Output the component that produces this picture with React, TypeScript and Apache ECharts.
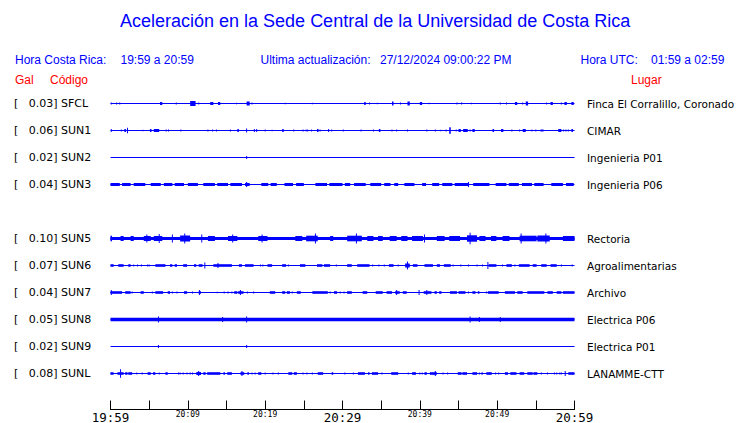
import React, { useEffect, useRef } from "react";
import * as echarts from "echarts";

// ---- data ----
const TITLE = "Aceleración en la Sede Central de la Universidad de Costa Rica";
const START_HOUR = 19;
const START_MIN = 59;
const SPAN_MIN = 60;
const BIG_TICKS = [0, 30, 60];

const CODES = ["SFCL", "SUN1", "SUN2", "SUN3", "SUN5", "SUN6", "SUN7", "SUN8", "SUN9", "SUNL"];
const PGA = [0.03, 0.06, 0.02, 0.04, 0.1, 0.07, 0.04, 0.05, 0.02, 0.08];
const PLACES = [
  "Finca El Corralillo, Coronado",
  "CIMAR",
  "Ingenieria P01",
  "Ingenieria P06",
  "Rectoria",
  "Agroalimentarias",
  "Archivo",
  "Electrica P06",
  "Electrica P01",
  "LANAMME-CTT",
];
const ROWS = [0, 1, 2, 3, 5, 6, 7, 8, 9, 10];

// bursts: [startMinute, endMinute, relative amplitude]
const SFCL = [
  [0.1, 0.1, 1], [0.8, 0.8, 1], [1.2, 1.2, 1], [6.4, 6.7, 1.5], [8.5, 8.5, 1], [10.3, 11.0, 2.5],
  [11.4, 11.4, 1], [12.9, 13.3, 1.5], [13.9, 14.2, 1.5], [16.3, 16.3, 0.7], [17.6, 18.0, 2], [18.3, 18.3, 1],
  [22.6, 22.6, 0.7], [26.1, 26.1, 0.7], [32.8, 33.0, 1.5], [33.5, 33.5, 1], [34.5, 34.5, 0.7], [36.4, 36.6, 2],
  [37.5, 37.5, 1], [38.4, 38.7, 2], [40.0, 40.3, 1.5], [41.2, 41.2, 0.7], [44.8, 44.8, 1], [45.4, 45.4, 1],
  [46.7, 46.7, 0.7], [50.4, 50.4, 1], [51.2, 51.2, 1], [52.3, 52.6, 1.5], [53.3, 53.3, 1], [53.7, 54.0, 2],
  [56.4, 56.4, 1], [56.9, 57.2, 1.5], [58.3, 58.3, 1], [58.7, 59.0, 1.5], [59.6, 59.9, 1.5],
];
const SUN1 = [
  [0.1, 0.1, 1.5], [1.4, 1.4, 1], [1.8, 2.0, 1.5], [2.2, 2.2, 2.8], [4.2, 4.2, 0.7], [5.1, 5.3, 1.5],
  [5.6, 6.3, 1.5], [7.2, 7.2, 1], [7.5, 7.5, 1], [9.1, 9.1, 1], [12.6, 12.6, 1], [13.2, 13.2, 1],
  [13.7, 13.7, 1], [15.5, 15.5, 1], [16.4, 16.6, 1.5], [17.6, 17.6, 2], [18.6, 18.6, 1.5], [18.9, 18.9, 1.5],
  [20.0, 20.0, 1], [20.9, 20.9, 0.7], [22.2, 22.4, 1.5], [23.7, 23.7, 1], [24.9, 24.9, 1], [25.3, 25.3, 1],
  [25.5, 25.5, 1], [26.0, 26.0, 1], [26.7, 26.9, 1.5], [27.1, 27.1, 1], [28.2, 28.2, 1.5], [28.6, 28.6, 1],
  [30.1, 30.1, 1], [32.4, 32.4, 1], [34.0, 34.0, 1], [34.7, 34.9, 1.5], [36.4, 36.4, 1], [37.0, 37.0, 1],
  [38.4, 38.4, 1], [40.9, 40.9, 1], [42.0, 42.0, 1], [42.7, 42.7, 0.7], [43.4, 43.4, 1], [43.8, 44.0, 3.3],
  [44.7, 44.7, 1], [45.0, 45.3, 1.5], [45.6, 46.2, 1.5], [46.5, 46.5, 1], [46.8, 47.1, 1.5], [49.4, 49.6, 1.5],
  [50.5, 50.8, 1.5], [51.9, 51.9, 1], [52.9, 52.9, 1], [53.3, 53.7, 1.5], [54.5, 54.5, 1], [55.0, 55.0, 1],
  [55.6, 56.0, 1], [57.9, 58.3, 1.5], [58.6, 58.6, 1], [58.9, 58.9, 1], [59.2, 59.2, 1], [59.6, 59.8, 1.5],
];
const SUN2 = [[17.6, 17.6, 1.5]];
const SUN3 = [
  [0.0, 1.2, 1.5], [1.5, 2.6, 1.5], [3.0, 4.5, 1.5], [5.2, 6.5, 1.5], [6.9, 8.0, 1.5], [8.3, 9.5, 1.5],
  [10.0, 11.3, 1.5], [12.0, 13.5, 1.5], [13.8, 15.2, 1.5], [15.5, 17.0, 1.5], [17.4, 18.0, 1.5], [17.6, 17.6, 2.5],
  [19.5, 20.4, 1.5], [20.7, 21.5, 1.5], [22.5, 23.6, 1.5], [24.0, 25.0, 1.5], [26.5, 28.0, 1.5], [28.3, 30.0, 1.5],
  [30.3, 31.0, 1.5], [31.5, 33.0, 1.5], [33.6, 35.0, 1.5], [35.4, 36.2, 1.5], [36.7, 37.2, 1.5], [38.0, 39.3, 1.5],
  [40.3, 40.8, 1.5], [41.6, 42.5, 1.5], [42.9, 44.2, 1.5], [44.5, 46.3, 1.5], [46.3, 46.3, 2.5],
  [46.9, 49.0, 1.5], [49.8, 51.2, 1.5], [51.5, 52.8, 1.5], [53.2, 54.5, 1.5], [54.8, 56.0, 1.5],
  [57.0, 58.5, 1.5], [58.9, 59.9, 1.5],
];
const SUN5 = [
  [0, 60, 1.6], [0.0, 0.2, 2.8], [1.3, 1.7, 2.5], [2.6, 3.0, 2.5], [4.3, 5.2, 2.5], [5.6, 6.7, 2.5], [4.7, 4.7, 4],
  [6.3, 6.3, 4.5], [8.0, 8.0, 4], [9.0, 10.3, 3], [9.6, 9.6, 5], [11.8, 11.8, 4], [12.6, 13.5, 2.5],
  [15.2, 16.4, 2.5], [15.8, 15.8, 4], [19.1, 20.3, 2.5], [19.6, 19.6, 4], [23.9, 24.8, 2.5], [25.3, 26.8, 2.8],
  [26.5, 26.5, 5], [28.4, 28.8, 2.5], [30.6, 32.5, 2.8], [31.8, 31.8, 5], [33.2, 34.0, 2.5], [34.6, 35.2, 2.5],
  [36.1, 37.0, 2.5], [37.6, 38.4, 2.5], [39.0, 40.4, 2.5], [40.6, 40.6, 4], [42.2, 43.2, 2.5], [43.8, 45.2, 2.5],
  [46.1, 47.4, 3.2], [46.5, 46.5, 5.7], [47.7, 48.5, 2.5], [49.2, 49.9, 2.5], [50.7, 51.6, 2.5], [52.9, 55.1, 2.8],
  [53.1, 53.1, 5], [55.2, 56.8, 3], [56.3, 56.3, 5], [58.5, 60, 2.5],
];
const SUN6 = [
  [0.0, 0.4, 1.3], [1.0, 1.7, 1.3], [2.3, 2.6, 1.3], [3.0, 3.0, 1], [3.5, 3.5, 1], [4.0, 4.0, 1], [4.8, 4.8, 1],
  [5.0, 5.0, 1], [5.8, 7.1, 1.3], [7.7, 8.0, 1.3], [8.3, 8.6, 1.3], [9.4, 9.9, 1.3], [10.8, 11.1, 1.3],
  [11.4, 11.9, 1.3], [12.2, 12.2, 3], [13.3, 15.7, 1.3], [13.9, 13.9, 2.5], [16.6, 17.0, 1.3], [17.4, 18.5, 1.3],
  [19.4, 19.4, 1], [19.7, 19.7, 1], [20.3, 20.9, 1.3], [22.2, 22.7, 1.3], [23.0, 23.0, 1], [24.5, 25.2, 1.3],
  [26.7, 27.4, 1.3], [27.6, 28.4, 1.3], [29.2, 29.2, 1], [30.6, 31.2, 1.3], [31.9, 33.5, 1.3], [33.9, 33.9, 1],
  [34.7, 34.7, 1], [35.4, 35.4, 1], [36.0, 36.6, 1.3], [37.2, 37.2, 1], [38.1, 38.7, 2], [38.4, 38.4, 4],
  [39.1, 39.7, 1.3], [40.6, 41.7, 1.3], [42.2, 42.6, 1.3], [43.1, 44.0, 1.3], [44.3, 44.3, 1], [45.3, 45.3, 1],
  [46.3, 46.3, 1], [47.4, 47.4, 1], [48.1, 48.1, 1], [48.8, 48.8, 3.5], [48.9, 49.9, 1.3], [50.7, 50.7, 1],
  [51.2, 51.9, 1.3], [52.3, 52.3, 1], [52.8, 54.2, 1.3], [54.6, 55.1, 1.3], [55.7, 56.4, 1.3], [56.9, 57.7, 1.3],
  [58.3, 58.3, 1], [59.7, 59.7, 1],
];
const SUN7 = [
  [0.0, 1.5, 1.3], [0.1, 0.1, 2.5], [1.9, 2.6, 1.3], [2.8, 2.8, 1], [3.9, 4.3, 1.3], [5.4, 5.4, 1],
  [5.8, 6.8, 1.3], [7.4, 7.7, 1.3], [8.0, 8.0, 1], [8.6, 8.6, 1], [9.5, 9.9, 1.3], [10.6, 10.6, 1],
  [11.4, 11.7, 1.3], [11.5, 11.5, 2.5], [13.8, 13.8, 0.7], [14.7, 14.7, 1], [15.2, 15.2, 1], [15.7, 15.7, 1],
  [16.0, 16.4, 1.3], [16.5, 17.2, 1.3], [16.8, 16.8, 2.5], [17.7, 17.7, 1], [18.5, 18.5, 1], [20.6, 21.3, 1.3],
  [22.2, 22.6, 1.3], [22.8, 23.2, 1.3], [23.5, 23.5, 1], [24.1, 24.6, 1.3], [26.1, 28.1, 1.3], [28.4, 28.4, 1],
  [28.9, 29.3, 1.3], [29.7, 29.7, 1], [30.2, 30.2, 1], [30.6, 31.2, 1.3], [32.6, 33.2, 1.3], [34.3, 35.2, 1.3],
  [35.7, 36.4, 1.3], [36.8, 37.4, 1.3], [37.0, 37.0, 2.5], [37.8, 38.3, 1.3], [39.9, 39.9, 2.5], [40.5, 41.5, 1.3],
  [40.9, 40.9, 2.5], [41.9, 42.2, 1.3], [42.5, 42.8, 1.3], [43.9, 44.8, 1.3], [45.0, 45.9, 1.3], [46.3, 46.3, 1],
  [46.8, 47.2, 1.3], [47.5, 47.7, 1.3], [48.6, 48.6, 1], [48.8, 50.2, 1.3], [51.0, 52.3, 1.3], [52.6, 53.3, 1.3],
  [53.9, 56.1, 1.3], [56.5, 57.2, 1.3], [57.7, 58.3, 1.3], [58.5, 60, 1.3],
];
const SUN8 = [
  [0, 60, 1.7], [6.2, 6.2, 3], [14.5, 14.5, 2.5], [17.6, 17.6, 3], [46.5, 46.5, 3], [47.7, 47.7, 2.5], [50.4, 50.4, 2.5],
];
const SUN9 = [[6.2, 6.2, 1.5], [17.6, 17.6, 1.5]];
const SUNL = [
  [0.0, 0.4, 1.3], [0.9, 1.7, 1.3], [1.3, 1.3, 4.3], [1.9, 2.2, 1.3], [2.3, 2.8, 1.3], [3.4, 3.4, 1], [4.1, 4.1, 1],
  [4.8, 5.2, 1.3], [5.5, 5.8, 1.3], [6.3, 6.3, 1], [7.1, 7.4, 1.3], [8.8, 8.8, 1], [9.0, 9.0, 1], [9.4, 9.4, 1],
  [9.9, 9.9, 1], [10.3, 10.3, 1], [10.6, 10.6, 1], [11.1, 11.7, 1.5], [11.4, 11.4, 2.5], [12.0, 12.3, 1.3],
  [12.5, 14.2, 1.3], [14.6, 14.8, 1.3], [15.1, 15.7, 1.3], [16.8, 17.3, 1.3], [17.0, 17.0, 2.5], [17.7, 17.9, 1.3],
  [18.3, 18.3, 1], [18.7, 18.7, 1], [19.1, 19.5, 1.3], [20.0, 20.0, 1], [21.0, 21.0, 1], [21.7, 21.7, 1],
  [23.0, 23.5, 1.3], [23.7, 24.1, 1.3], [24.9, 24.9, 1], [25.4, 25.4, 1], [26.1, 26.1, 1], [26.8, 27.5, 1.3],
  [28.6, 28.8, 1.3], [30.3, 30.3, 1], [31.4, 31.4, 1], [32.0, 32.9, 1.3], [33.3, 33.5, 1.3], [33.8, 34.6, 1.3],
  [35.1, 35.1, 1], [36.3, 37.2, 1.3], [38.5, 38.5, 1], [39.0, 39.5, 1.3], [40.0, 40.0, 1], [40.3, 40.3, 1],
  [40.6, 40.9, 1.3], [41.3, 42.2, 1.3], [42.0, 42.0, 2.5], [43.0, 43.0, 1], [43.6, 43.6, 1], [44.9, 45.4, 1.3],
  [45.5, 46.1, 1.3], [46.8, 47.4, 1.3], [47.7, 47.7, 1], [48.0, 48.0, 1], [48.1, 48.1, 1], [48.6, 49.3, 1.3],
  [49.8, 49.8, 1], [50.2, 50.2, 1], [51.0, 51.4, 1.3], [51.7, 52.5, 1.3], [52.9, 53.5, 1.3], [53.9, 54.6, 1.3],
  [54.7, 55.2, 1.3], [55.7, 55.7, 1], [56.5, 56.5, 1], [57.4, 57.4, 1], [57.7, 57.7, 1], [58.1, 58.1, 1],
  [58.3, 58.3, 1], [58.8, 58.8, 2.5], [59.2, 60, 1.3],
];
const TRACES = [SFCL, SUN1, SUN2, SUN3, SUN5, SUN6, SUN7, SUN8, SUN9, SUNL];

// ---- styling ----
const BLUE = "#0000ff";
const RED = "#ff0000";
const GAIN = 1 / 27; // relative amplitude -> row units
const ROW_MAX = 306 / 27;

function timeLabel(v: number) {
  const t = START_HOUR * 60 + START_MIN + v;
  const h = Math.floor(t / 60) % 24;
  const m = t % 60;
  return String(h).padStart(2, "0") + ":" + String(m).padStart(2, "0");
}

function rowIndex(v: number) {
  const r = Math.round(v);
  if (Math.abs(v - r) > 1e-6) return -1;
  return ROWS.indexOf(r);
}

export default function App() {
  const ref = useRef<HTMLDivElement>(null);
  useEffect(() => {
    const chart = echarts.init(ref.current!, null, { renderer: "svg" });
    const series: any[] = [];
    ROWS.forEach((row, i) => {
      series.push({
        type: "line",
        data: [[0, row], [SPAN_MIN, row]],
        symbol: "none",
        lineStyle: { color: BLUE, width: 1 },
        silent: true,
        z: 2,
      });
      series.push({
        type: "custom",
        name: CODES[i],
        clip: false,
        silent: true,
        z: 3,
        encode: { x: [0, 1], y: 3 },
        data: TRACES[i].map((b) => [b[0], b[1], b[2], row]),
        renderItem: (params: any, api: any) => {
          const s = api.value(0);
          const e = api.value(1);
          const a = api.value(2);
          const r = api.value(3);
          const p1 = api.coord([s, r - a * GAIN]);
          const p2 = api.coord([e, r + a * GAIN]);
          let x = Math.min(p1[0], p2[0]);
          let w = Math.abs(p2[0] - p1[0]);
          if (w < 1) {
            x = (p1[0] + p2[0]) / 2 - 0.5;
            w = 1;
          }
          const y = Math.min(p1[1], p2[1]);
          const h = Math.abs(p2[1] - p1[1]);
          return { type: "rect", shape: { x, y, width: w, height: h }, style: { fill: BLUE } };
        },
      });
    });

    const hdr = (text: string, x: number, y: number, fill: string) => ({
      type: "text",
      x,
      y,
      style: { text, fill, font: '12px "Liberation Sans", Arial, sans-serif', verticalAlign: "middle" },
    });

    chart.setOption({
      animation: false,
      backgroundColor: "#ffffff",
      title: {
        text: TITLE,
        left: 120,
        top: 12,
        padding: 0,
        textStyle: { color: BLUE, fontSize: 18, fontWeight: "normal", fontFamily: "Liberation Sans" },
      },
      graphic: [
        hdr("Hora Costa Rica:", 15, 60, BLUE),
        hdr("19:59 a 20:59", 120.5, 60, BLUE),
        hdr("Ultima actualización:", 260.5, 60, BLUE),
        hdr("27/12/2024 09:00:22 PM", 380, 60, BLUE),
        hdr("Hora UTC:", 580.5, 60, BLUE),
        hdr("01:59 a 02:59", 651, 60, BLUE),
        hdr("Gal", 15, 80, RED),
        hdr("Código", 50, 80, RED),
        hdr("Lugar", 631, 80, RED),
      ],
      grid: { left: 110.5, right: 165.5, top: 103.5, bottom: 13.5, outerBoundsMode: "none", containLabel: false },
      xAxis: {
        type: "value",
        position: "bottom",
        min: 0,
        max: SPAN_MIN,
        interval: 5,
        splitLine: { show: false },
        axisLine: { show: true, onZero: false, lineStyle: { color: "#000", width: 1 } },
        axisTick: { show: true, inside: true, length: 9, lineStyle: { color: "#000" } },
        axisLabel: {
          margin: 3,
          color: "#000",
          formatter: (v: number) => {
            if (v % 10 !== 0) return "";
            return BIG_TICKS.indexOf(v) >= 0 ? "{big|" + timeLabel(v) + "}" : "{small|" + timeLabel(v) + "}";
          },
          rich: {
            big: { fontSize: 12.5, lineHeight: 9, fontFamily: "DejaVu Sans Mono", color: "#000" },
            small: { fontSize: 8, lineHeight: 4, fontFamily: "DejaVu Sans Mono", color: "#000" },
          },
        },
      },
      yAxis: [
        {
          type: "value",
          inverse: true,
          min: 0,
          max: ROW_MAX,
          interval: 1,
          position: "left",
          splitLine: { show: false },
          axisLine: { show: false, onZero: false },
          axisTick: { show: false },
          axisLabel: {
            align: "left",
            margin: 96.5,
            color: "#000",
            fontSize: 11,
            fontFamily: "DejaVu Sans",
            showMaxLabel: false,
            formatter: (v: number) => {
              const i = rowIndex(v);
              return i < 0 ? "" : "[   " + PGA[i].toFixed(2) + "] " + CODES[i];
            },
          },
        },
        {
          type: "value",
          inverse: true,
          min: 0,
          max: ROW_MAX,
          interval: 1,
          position: "right",
          splitLine: { show: false },
          axisLine: { show: false, onZero: false },
          axisTick: { show: false },
          axisLabel: {
            margin: 12.5,
            color: "#000",
            fontSize: 10.5,
            fontFamily: "DejaVu Sans",
            showMaxLabel: false,
            formatter: (v: number) => {
              const i = rowIndex(v);
              return i < 0 ? "" : PLACES[i];
            },
          },
        },
      ],
      series,
    });
    return () => chart.dispose();
  }, []);
  return <div ref={ref} style={{ position: "absolute", left: 0, top: 0, width: 740, height: 423 }} />;
}
